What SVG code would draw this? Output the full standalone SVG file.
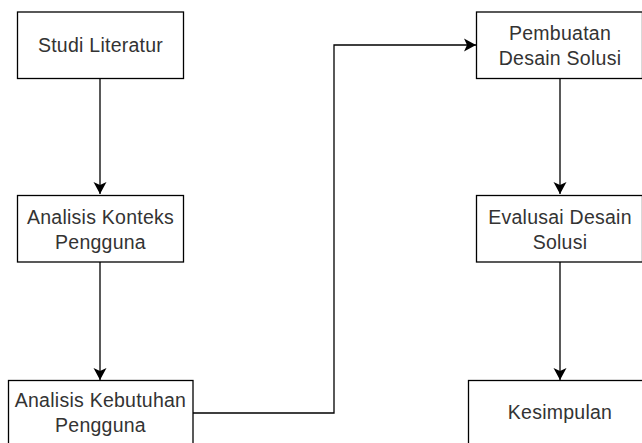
<svg xmlns="http://www.w3.org/2000/svg" width="642" height="443" viewBox="0 0 642 443">
<style>
.box{fill:#fff;stroke:#000;stroke-width:1.3}
.t{font-family:"Liberation Sans",Arial,sans-serif;font-size:19.5px;letter-spacing:0.25px;fill:#333;text-anchor:middle}
.c{fill:none;stroke:#000;stroke-width:1.3}
</style>
<defs>
<marker id="a" markerUnits="userSpaceOnUse" markerWidth="14" markerHeight="16" refX="12" refY="8" orient="auto">
<path d="M0,1.5 L12,8 L0,14.5 L3,8 Z" fill="#000"/>
</marker>
</defs>
<rect width="642" height="443" fill="#fff"/>
<g id="connectors">
<path class="c" d="M100,78.5 V194" marker-end="url(#a)"/>
<path class="c" d="M100,262 V380" marker-end="url(#a)"/>
<path class="c" d="M193,413 H334 V45 H476" marker-end="url(#a)"/>
<path class="c" d="M560,78.5 V194" marker-end="url(#a)"/>
<path class="c" d="M560,262 V380" marker-end="url(#a)"/>
</g>
<g id="studi">
<rect class="box" x="17.5" y="12" width="166" height="66.5"/>
<text class="t" x="100.5" y="51.5">Studi Literatur</text>
</g>
<g id="konteks">
<rect class="box" x="17.5" y="195.5" width="166" height="66.5"/>
<text class="t" x="100.5" y="223.5">Analisis Konteks</text>
<text class="t" x="100.5" y="248.5">Pengguna</text>
</g>
<g id="kebutuhan">
<rect class="box" x="8.5" y="380.5" width="184.5" height="66.5"/>
<text class="t" x="100.5" y="407">Analisis Kebutuhan</text>
<text class="t" x="100.5" y="432">Pengguna</text>
</g>
<g id="pembuatan">
<rect class="box" x="476.5" y="12" width="166" height="66.5"/>
<text class="t" x="560" y="39.5">Pembuatan</text>
<text class="t" x="560" y="64.5">Desain Solusi</text>
</g>
<g id="evaluasi">
<rect class="box" x="476.5" y="195.5" width="166" height="66.5"/>
<text class="t" x="560" y="223.5">Evalusai Desain</text>
<text class="t" x="560" y="248.5">Solusi</text>
</g>
<g id="kesimpulan">
<rect class="box" x="468.5" y="380.5" width="183" height="66.5"/>
<text class="t" x="560" y="419">Kesimpulan</text>
</g>
</svg>
